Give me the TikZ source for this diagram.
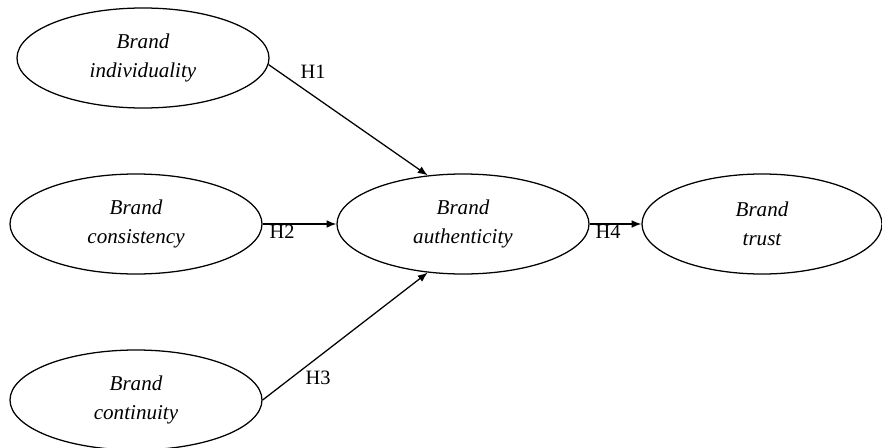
\documentclass[tikz,border=0pt]{standalone}
\usepackage{fontspec}
\setmainfont{Liberation Serif}
\usepackage{tikz}
\usetikzlibrary{shapes,arrows,arrows.meta}
\usetikzlibrary{calc}

\begin{document}
\begin{tikzpicture}[
  construct/.style={draw,ellipse,line width=0.9pt,minimum width=6.3cm,minimum height=2.5cm,inner sep=0pt,align=center,font=\fontsize{15}{21}\selectfont\itshape},
  hyp/.style={-{Latex[length=7pt,width=5.5pt]},line width=0.9pt},
  hlab/.style={font=\fontsize{14.5}{16}\selectfont,inner sep=0pt}
]
\useasboundingbox (0,0) rectangle (22.05,-11.2);

\node[construct] (indiv) at (3.575,-1.45) {Brand\\individuality};
\node[construct] (consis) at (3.4,-5.6) {Brand\\consistency};
\node[construct] (contin) at (3.4,-10.0) {Brand\\continuity};
\node[construct] (authen) at (11.575,-5.6) {Brand\\authenticity};
\node[construct,minimum width=6.0cm] (trust) at (19.05,-5.6) {Brand\\trust};



\node[hlab] (h1) at (7.83,-1.8) {H1};
\node[hlab] (h2) at (7.05,-5.8) {H2};
\node[hlab] (h3) at (7.95,-9.45) {H3};
\node[hlab] (h4) at (15.2,-5.8) {H4};
\draw[hyp] (indiv.-3)-- (authen.126) ;
\draw[hyp] (consis.east)-- (authen.west) ;
\draw[hyp] (contin.east)-- (authen.234) ;
\draw[hyp] (authen.east)-- (trust.west) ;

\end{tikzpicture}
\end{document}
